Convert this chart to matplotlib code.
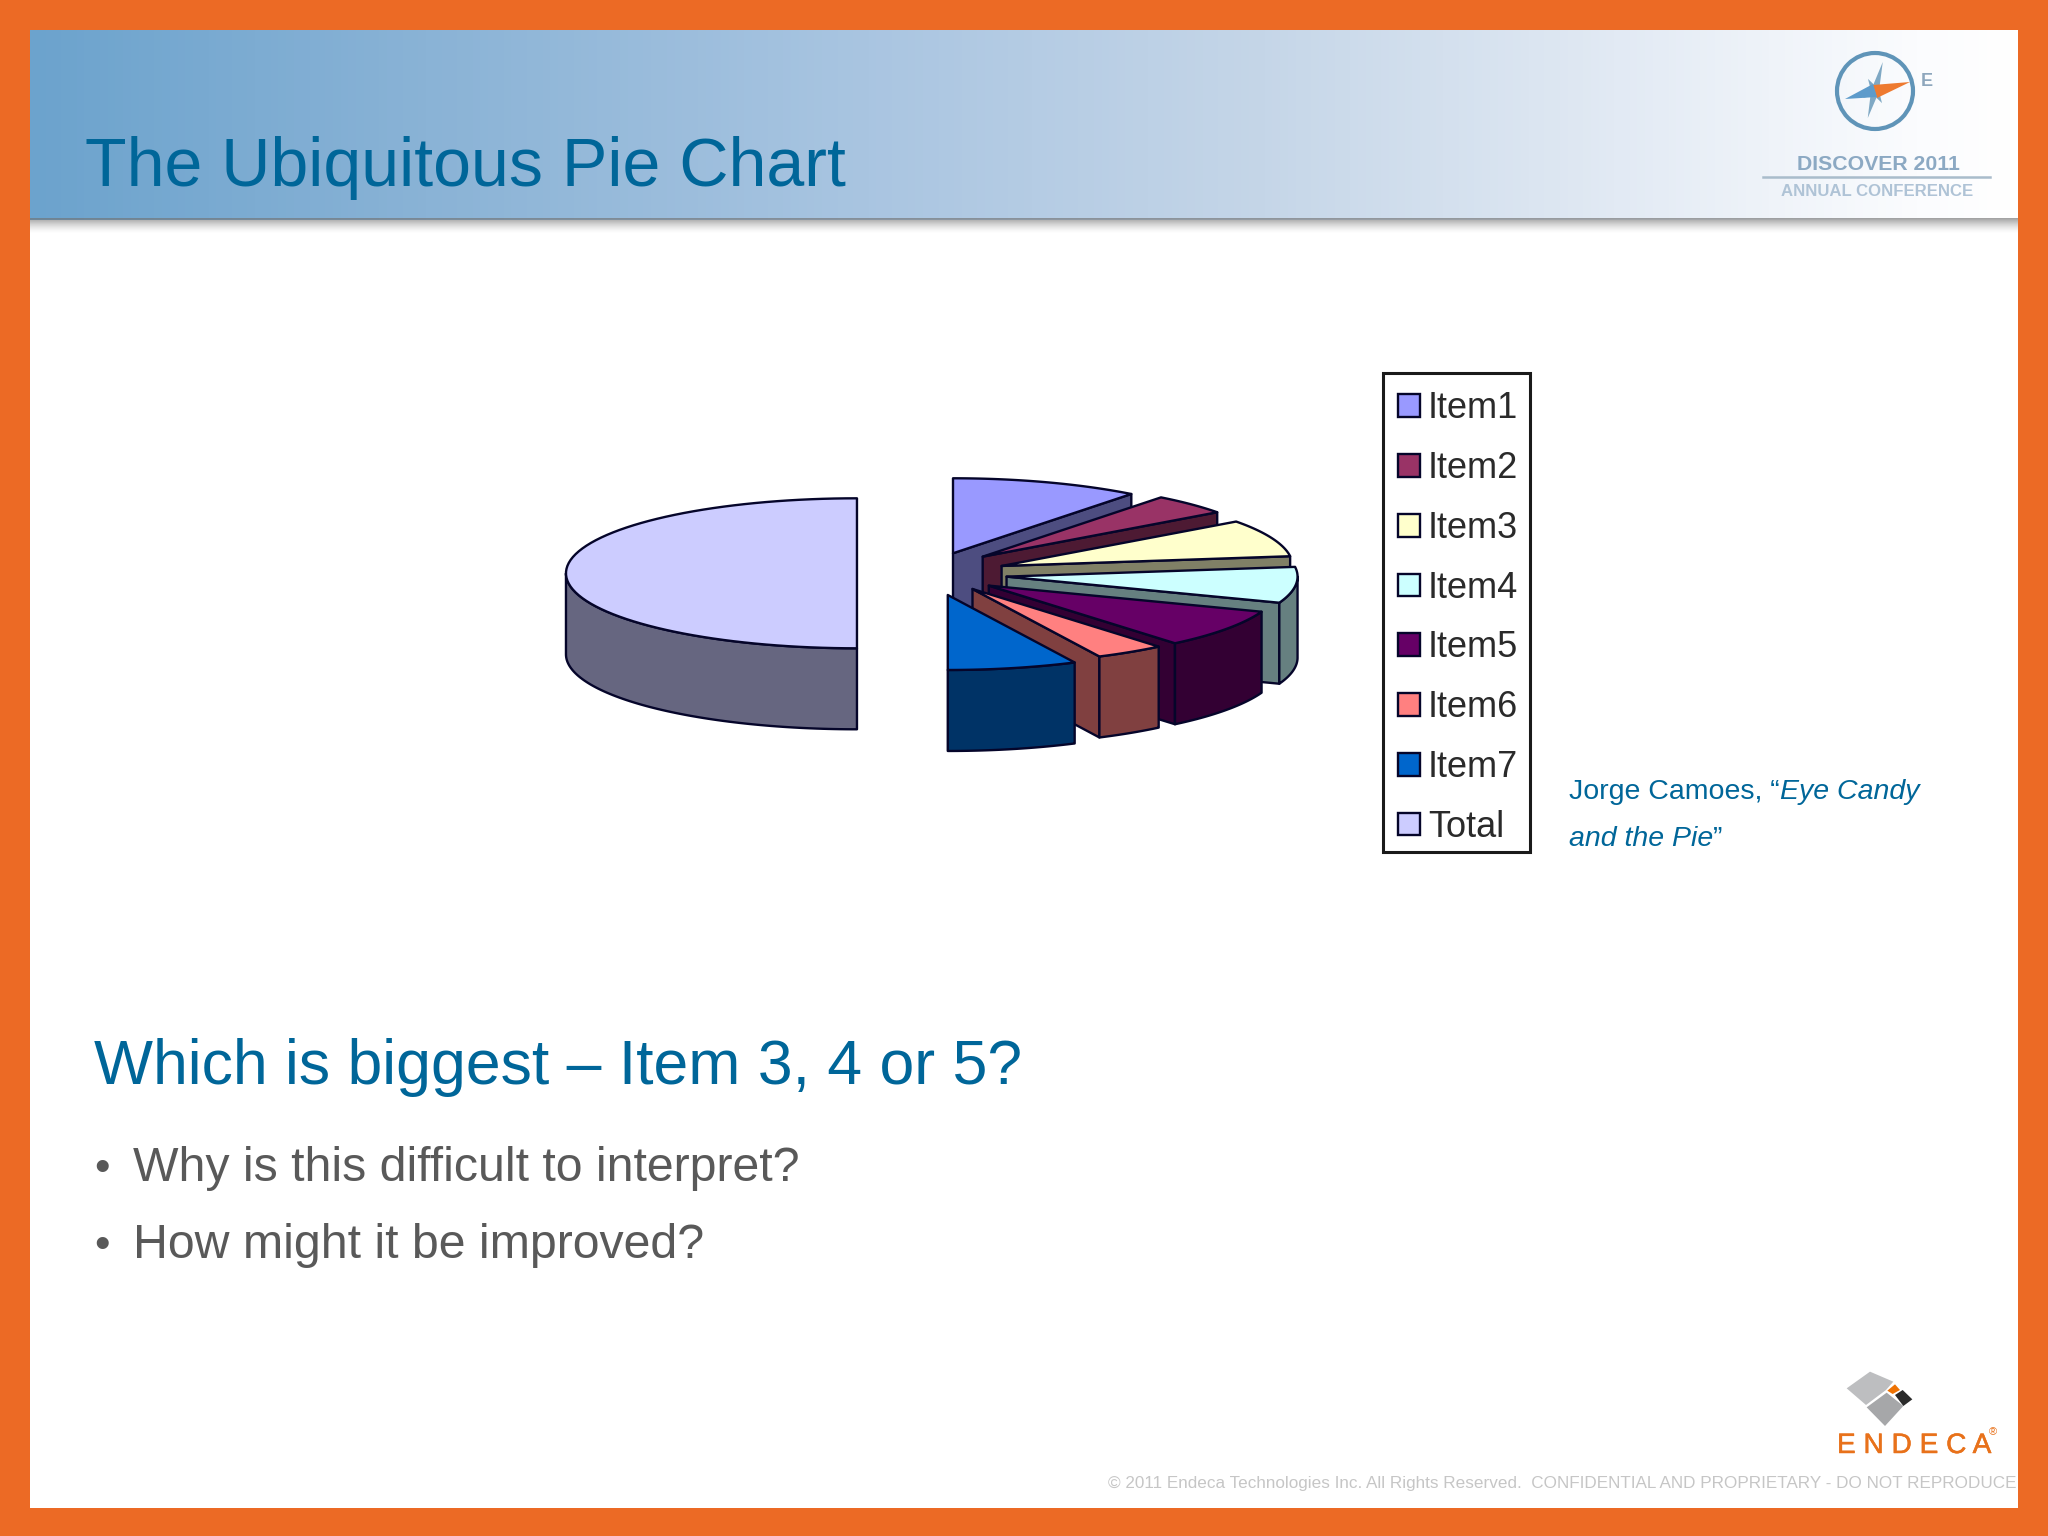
import numpy as np
import matplotlib
matplotlib.use("Agg")
import matplotlib.pyplot as plt
import matplotlib.patheffects as pe
from matplotlib.colors import LinearSegmentedColormap, to_rgb
from matplotlib.patches import Rectangle, Circle, Polygon

# ---- data ----
slice_names = ["Item1", "Item2", "Item3", "Item4", "Item5", "Item6", "Item7", "Total"]
slice_values = [19, 8, 14.5, 14, 15, 7, 13, 90.5]

title_text = "The Ubiquitous Pie Chart"
question_text = "Which is biggest \u2013 Item 3, 4 or 5?"
bullet_texts = ["Why is this difficult to interpret?", "How might it be improved?"]
footer_text = "\u00a9 2011 Endeca Technologies Inc. All Rights Reserved.  CONFIDENTIAL AND PROPRIETARY - DO NOT REPRODUCE"

# ---- styles / layout ----
top_colors = ["#9999FF", "#993366", "#FFFFCC", "#CCFFFF", "#660066", "#FF8080", "#0066CC", "#CCCCFF"]
# explosion of every slice, in pie radii (x, y)
explode_xy = [(0.0, 0.267), (0.102, 0.222), (0.167, 0.098), (0.184, -0.044),
              (0.123, -0.164), (0.067, -0.209), (-0.018, -0.289), (-0.33, 0.0)]
ORANGE = "#EC6A25"
BLUE = "#006699"
GREY = "#595959"
OUTLINE = "#05052A"
W, H = 2048, 1536

plt.rcParams["font.family"] = ["Liberation Sans", "DejaVu Sans"]
fig = plt.figure(figsize=(W / 100, H / 100), dpi=100, facecolor=ORANGE)

# slide canvas in pixel units
bg = fig.add_axes([0, 0, 1, 1])
bg.set_xlim(0, W)
bg.set_ylim(H, 0)
bg.axis("off")
bg.add_patch(Rectangle((30, 30), 1988, 1478, fc="white", ec="none", zorder=1))

grad = LinearSegmentedColormap.from_list(
    "hdr", [(0, "#6CA3CD"), (0.2, "#8AB3D6"), (0.42, "#A9C5E1"), (0.62, "#C5D6E8"), (0.8, "#E2EAF4"), (0.95, "#FBFCFE"), (1, "#FFFFFF")])
bg.imshow(np.linspace(0, 1, 512).reshape(1, -1), cmap=grad, extent=(30, 2018, 220, 30),
          aspect="auto", zorder=2)
shadow = np.ones((16, 1, 4))
shadow[:, :, :3] = 0.45
shadow[:, :, 3] = np.linspace(0.75, 0, 16).reshape(-1, 1) ** 1.5
bg.imshow(shadow, extent=(30, 2018, 234, 218), aspect="auto", zorder=3)
bg.set_xlim(0, W)
bg.set_ylim(H, 0)

bg.text(85, 186, title_text, fontsize=49.1, color=BLUE, va="baseline", zorder=5)
bg.text(94, 1084, question_text, fontsize=45, color=BLUE, va="baseline", zorder=5)
for yb, txt in zip([1181, 1258], bullet_texts):
    bg.text(94, yb, "\u2022", fontsize=32, color=GREY, va="baseline", zorder=5)
    bg.text(133, yb, txt, fontsize=34.75, color=GREY, va="baseline", zorder=5)
bg.text(2016, 1488, footer_text, fontsize=12.3, color="#C6C6C6", ha="right", va="baseline", zorder=5)


def run(x, y, parts, size, color):
    renderer = fig.canvas.get_renderer()
    for txt, style in parts:
        t = bg.text(x, y, txt, fontsize=size, color=color, style=style, va="baseline", zorder=5)
        x += t.get_window_extent(renderer).width


run(1569, 799, [("Jorge Camoes, \u201c", "normal"), ("Eye Candy", "italic")], 20.5, BLUE)
run(1569, 846, [("and the Pie", "italic"), ("\u201d", "normal")], 20.5, BLUE)

# discover logo
cx, cy = 1875, 91
bg.add_patch(Circle((cx, cy), 38, fc="none", ec="#5F94B8", lw=3.0, zorder=5))
for ang, ln in zip(np.arange(0, 360, 45) + 15, [30, 14, 0, 14, 28, 14, 0, 14]):
    if ln == 0:
        continue
    r = np.radians(ang)
    tip = (cx + ln * np.sin(r), cy - ln * np.cos(r))
    n = (4 * np.cos(r), 4 * np.sin(r))
    bg.add_patch(Polygon([(cx + n[0], cy + n[1]), tip, (cx - n[0], cy - n[1])], fc="#7FA8C4", ec="none", zorder=5))
bg.add_patch(Polygon([(cx - 2, cy - 6), (cx + 35, cy - 9), (cx + 2, cy + 7)], fc="#EE7A30", ec="none", zorder=6))
bg.add_patch(Polygon([(cx + 2, cy + 6), (cx - 30, cy + 8), (cx - 2, cy - 7)], fc="#5D9BCB", ec="none", zorder=6))
bg.text(1927, 82, "E", fontsize=13, fontweight="bold", color="#8EA7BD", ha="center", va="center", zorder=5)
bg.text(1878, 165, "DISCOVER 2011", fontsize=15.3, fontweight="bold", color="#8CA9C3", ha="center", va="center", zorder=5)
bg.plot([1763, 1990], [177, 177], color="#A9BCCB", lw=1.8, zorder=5)
bg.text(1877, 191, "ANNUAL CONFERENCE", fontsize=12.1, fontweight="bold", color="#AFC3D6", ha="center", va="center", zorder=5)

# endeca logo
def lg(pts):
    return [(1780 + x / 3, 1350 + y / 3) for x, y in pts]


bg.add_patch(Polygon(lg([(200, 115), (270, 65), (340, 95), (318, 120), (258, 165)]), fc="#BDBEC0", ec="none", zorder=5))
bg.add_patch(Polygon(lg([(260, 172), (320, 128), (370, 168), (315, 228)]), fc="#A6A7A9", ec="none", zorder=5))
bg.add_patch(Polygon(lg([(322, 122), (345, 103), (360, 120), (338, 132)]), fc="#EE7203", ec="none", zorder=5))
bg.add_patch(Polygon(lg([(345, 135), (368, 120), (397, 148), (370, 168)]), fc="#2A2A2A", ec="none", zorder=5))
bg.text(1837, 1453, "E N D E C A", fontsize=20.2, color="#E8711A", va="baseline", zorder=5,
        path_effects=[pe.withStroke(linewidth=0.35, foreground="#E8711A")])
bg.text(1993, 1435, "\u00ae", fontsize=8, color="#E8711A", ha="center", va="baseline", zorder=5)

# ---- 3-D exploded pie ----
RX, RY, DEPTH = 291.0, 75.0, 81.0  # pixel size of a radius and of the wall
C0 = (953.0, 573.3)
L, T, R, B = 540, 440, 1340, 790
ax = fig.add_axes([L / W, 1 - B / H, (R - L) / W, (B - T) / H])
ax.set_xlim((L - C0[0]) / RX, (R - C0[0]) / RX)
ax.set_ylim((C0[1] - B) / RY, (C0[1] - T) / RY)
ax.axis("off")
ax.patch.set_alpha(0)

depth = DEPTH / RY
vals = np.asarray(slice_values, float)
edges = np.concatenate([[0], np.cumsum(vals)]) / vals.sum() * 360.0


def dark(c):
    return tuple(0.5 * v for v in to_rgb(c))


handles = []
for i, name in enumerate(slice_names):
    th1, th2 = edges[i], edges[i + 1]
    ox, oy = explode_xy[i]
    th = np.radians(np.linspace(th1, th2, 80))
    xs, ys = ox + np.sin(th), oy + np.cos(th)
    col, side = top_colors[i], dark(top_colors[i])
    kw = dict(edgecolor=OUTLINE, linewidth=1.7, joinstyle="round")
    # cut face on the clockwise end of the slice
    if th2 < 180:
        fx, fy = [ox, xs[-1], xs[-1], ox], [oy, ys[-1], ys[-1] - depth, oy - depth]
        ax.fill(fx, fy, facecolor=side, zorder=10 + i, **kw)
    # outer wall, only where it faces the viewer
    lo, hi = max(th1, 90), min(th2, 270)
    if hi > lo:
        a = np.radians(np.linspace(lo, hi, 80))
        wx, wy = ox + np.sin(a), oy + np.cos(a)
        ax.fill(np.r_[wx, wx[::-1]], np.r_[wy, wy[::-1] - depth], facecolor=side, zorder=10 + i, **kw)
    # top surface
    h = ax.fill(np.r_[ox, xs], np.r_[oy, ys], facecolor=col, zorder=10 + i, label=name, **kw)[0]
    handles.append(h)

# legend: frame drawn separately so its box can sit exactly around the rows
bg.add_patch(Rectangle((1383, 373), 147, 479, fc="white", ec="#1A1A1A", lw=2.2, zorder=7))
leg = bg.legend(handles=handles, labels=slice_names, loc="upper left",
                bbox_to_anchor=(1398 / W, 1 - 391.5 / H), bbox_transform=fig.transFigure,
                fontsize=26, frameon=False,
                handlelength=0.61, handleheight=0.59, handletextpad=0.22, labelspacing=0.685,
                borderpad=0, borderaxespad=0, labelcolor="#2A2A2A")
leg.set_zorder(8)

fig.savefig("out.png", dpi=100, facecolor=ORANGE)
